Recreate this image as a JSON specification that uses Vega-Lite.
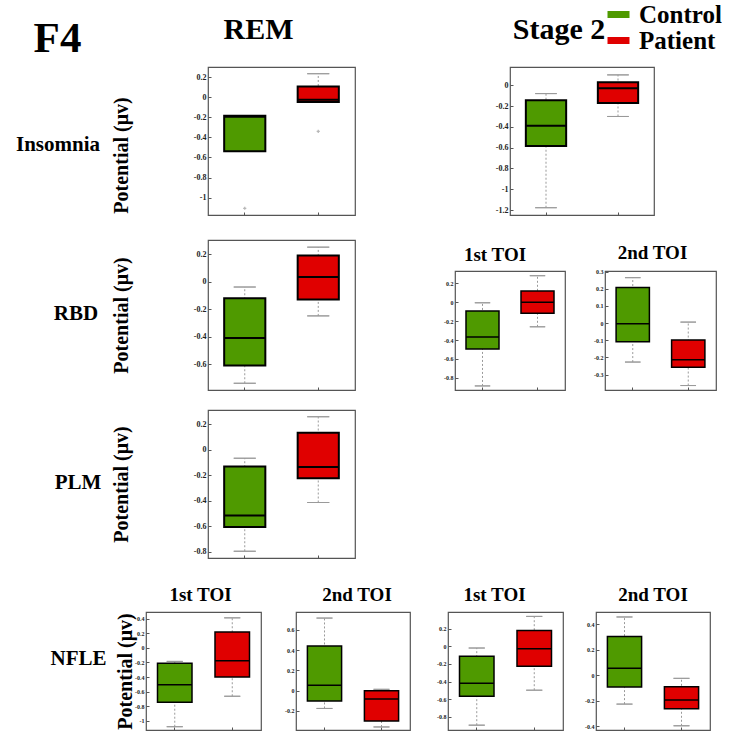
{
  "$schema": "https://vega.github.io/schema/vega-lite/v6.json",
  "padding": 0,
  "background": "white",
  "datasets": {
    "boxes": [
      {"panel": "P1", "group": "Control", "lo": -0.538, "q1": -0.538, "med": -0.195, "q3": -0.185, "hi": -0.185},
      {"panel": "P1", "group": "Patient", "lo": -0.048, "q1": -0.048, "med": -0.025, "q3": 0.107, "hi": 0.233},
      {"panel": "P2", "group": "Control", "lo": -1.178, "q1": -0.585, "med": -0.39, "q3": -0.144, "hi": -0.08},
      {"panel": "P2", "group": "Patient", "lo": -0.30, "q1": -0.17, "med": -0.029, "q3": 0.029, "hi": 0.10},
      {"panel": "P3", "group": "Control", "lo": -0.74, "q1": -0.61, "med": -0.41, "q3": -0.122, "hi": -0.04},
      {"panel": "P3", "group": "Patient", "lo": -0.25, "q1": -0.13, "med": 0.033, "q3": 0.19, "hi": 0.25},
      {"panel": "P4", "group": "Control", "lo": -0.885, "q1": -0.495, "med": -0.367, "q3": -0.094, "hi": -0.006},
      {"panel": "P4", "group": "Patient", "lo": -0.26, "q1": -0.116, "med": 0.0, "q3": 0.118, "hi": 0.28},
      {"panel": "P5", "group": "Control", "lo": -0.227, "q1": -0.108, "med": -0.003, "q3": 0.208, "hi": 0.265},
      {"panel": "P5", "group": "Patient", "lo": -0.364, "q1": -0.258, "med": -0.214, "q3": -0.099, "hi": 0.006},
      {"panel": "P6", "group": "Control", "lo": -0.797, "q1": -0.607, "med": -0.516, "q3": -0.133, "hi": -0.068},
      {"panel": "P6", "group": "Patient", "lo": -0.415, "q1": -0.224, "med": -0.136, "q3": 0.132, "hi": 0.257},
      {"panel": "P7", "group": "Control", "lo": -1.08, "q1": -0.745, "med": -0.505, "q3": -0.21, "hi": -0.186},
      {"panel": "P7", "group": "Patient", "lo": -0.663, "q1": -0.40, "med": -0.177, "q3": 0.216, "hi": 0.41},
      {"panel": "P8", "group": "Control", "lo": -0.177, "q1": -0.104, "med": 0.051, "q3": 0.44, "hi": 0.716},
      {"panel": "P8", "group": "Patient", "lo": -0.36, "q1": -0.302, "med": -0.084, "q3": -0.002, "hi": 0.012},
      {"panel": "P9", "group": "Control", "lo": -0.895, "q1": -0.566, "med": -0.419, "q3": -0.113, "hi": -0.019},
      {"panel": "P9", "group": "Patient", "lo": -0.498, "q1": -0.226, "med": -0.027, "q3": 0.181, "hi": 0.34},
      {"panel": "P10", "group": "Control", "lo": -0.227, "q1": -0.093, "med": 0.054, "q3": 0.303, "hi": 0.456},
      {"panel": "P10", "group": "Patient", "lo": -0.397, "q1": -0.263, "med": -0.195, "q3": -0.09, "hi": -0.025}
    ],
    "outliers": [
      {"panel": "P1", "group": "Control", "v": -1.106},
      {"panel": "P1", "group": "Patient", "v": -0.34}
    ],
    "blank": [{}]
  },
  "spacing": 0,
  "bounds": "flush",
  "vconcat": [
    {"width": 113, "height": 67, "view": {"stroke": null}, "data": {"values": [{"t": "F4"}]},
     "mark": {"type": "text", "font": "Liberation Serif", "fontWeight": "bold", "fontSize": 43, "baseline": "alphabetic", "dy": 18.5, "dx": -2, "color": "#000"},
     "encoding": {"text": {"field": "t"}}},
    {
      "spacing": 0, "bounds": "flush",
      "hconcat": [
        {"width": 110, "height": 148, "view": {"stroke": null}, "data": {"values": [{"t": "Insomnia"}]},
         "mark": {"type": "text", "font": "Liberation Serif", "fontWeight": "bold", "fontSize": 21, "baseline": "alphabetic", "dy": 10, "color": "#000"},
         "encoding": {"text": {"field": "t"}}},
        {"width": 95, "height": 1, "view": {"stroke": null}, "data": {"name": "blank"}, "mark": {"type": "point", "opacity": 0}},
        {
          "width": 147, "height": 148,
          "view": {"stroke": "#555", "strokeWidth": 1.2},
          "title": {"text": "REM", "fontSize": 30, "offset": 22, "dx": -23},
          "data": {"name": "boxes"},
          "transform": [{"filter": "datum.panel === 'P1'"}],
          "encoding": {"x": {"field": "group", "type": "nominal", "title": null, "scale": {"domain": ["Control", "Patient"], "paddingInner": 0, "paddingOuter": 0}, "axis": {"labels": false, "domain": false, "tickSize": -3}}},
          "layer": [
            {"mark": {"type": "rule", "color": "#9a9a9a", "strokeDash": [2, 2], "strokeWidth": 1},
             "encoding": {"y": {"field": "lo", "type": "quantitative", "scale": {"domain": [-1.173, 0.30], "nice": false, "zero": false},
               "axis": {"values": [-1, -0.8, -0.6, -0.4, -0.2, 0, 0.2], "tickCount": 40, "labelOverlap": false, "format": "~g", "labelFontSize": 8, "title": "Potential (μv)", "titleX": -77, "titleY": 88}},
               "y2": {"field": "hi"}}},
            {"mark": {"type": "bar", "filled": false, "color": "#9a9a9a", "strokeWidth": 1, "width": {"band": 0.3}},
             "encoding": {"y": {"field": "lo", "type": "quantitative"}, "y2": {"field": "lo"}}},
            {"mark": {"type": "bar", "filled": false, "color": "#9a9a9a", "strokeWidth": 1, "width": {"band": 0.3}},
             "encoding": {"y": {"field": "hi", "type": "quantitative"}, "y2": {"field": "hi"}}},
            {"mark": {"type": "bar", "stroke": "#000", "strokeWidth": 2, "width": {"band": 0.56}},
             "encoding": {"y": {"field": "q1", "type": "quantitative"}, "y2": {"field": "q3"},
               "color": {"field": "group", "type": "nominal", "scale": {"domain": ["Control", "Patient"], "range": ["#4f9a00", "#e00000"]},
                 "legend": {"orient": "none", "legendX": 603, "legendY": 2, "title": null, "labelFont": "Liberation Serif", "labelFontWeight": "bold", "labelFontSize": 25, "labelColor": "#000", "symbolType": "M-1,-0.32H1V0.32H-1Z", "symbolSize": 484, "symbolStrokeWidth": 0, "symbolOpacity": 1, "rowPadding": 0, "labelOffset": 8, "padding": 0}}}},
            {"mark": {"type": "bar", "filled": false, "color": "#000", "strokeWidth": 2, "width": {"band": 0.56}},
             "encoding": {"y": {"field": "med", "type": "quantitative"}, "y2": {"field": "med"}}},
            {"data": {"name": "outliers"},
             "transform": [{"filter": "datum.panel === 'P1'"}],
             "mark": {"type": "point", "shape": "cross", "size": 10, "color": "#999", "filled": true},
             "encoding": {"y": {"field": "v", "type": "quantitative"}}}
          ]
        },
        {"width": 155, "height": 1, "view": {"stroke": null}, "data": {"name": "blank"}, "mark": {"type": "point", "opacity": 0}},
        {
          "width": 144, "height": 148,
          "view": {"stroke": "#555", "strokeWidth": 1.2},
          "title": {"text": "Stage 2", "fontSize": 30, "offset": 22, "dx": -23},
          "data": {"name": "boxes"},
          "transform": [{"filter": "datum.panel === 'P2'"}],
          "encoding": {"x": {"field": "group", "type": "nominal", "title": null, "scale": {"domain": ["Control", "Patient"], "paddingInner": 0, "paddingOuter": 0}, "axis": {"labels": false, "domain": false, "tickSize": -3}}},
          "layer": [
            {"mark": {"type": "rule", "color": "#9a9a9a", "strokeDash": [2, 2], "strokeWidth": 1},
             "encoding": {"y": {"field": "lo", "type": "quantitative", "scale": {"domain": [-1.248, 0.176], "nice": false, "zero": false},
               "axis": {"values": [-1.2, -1, -0.8, -0.6, -0.4, -0.2, 0], "tickCount": 40, "labelOverlap": false, "format": "~g", "labelFontSize": 8, "title": null}},
               "y2": {"field": "hi"}}},
            {"mark": {"type": "bar", "filled": false, "color": "#9a9a9a", "strokeWidth": 1, "width": {"band": 0.3}},
             "encoding": {"y": {"field": "lo", "type": "quantitative"}, "y2": {"field": "lo"}}},
            {"mark": {"type": "bar", "filled": false, "color": "#9a9a9a", "strokeWidth": 1, "width": {"band": 0.3}},
             "encoding": {"y": {"field": "hi", "type": "quantitative"}, "y2": {"field": "hi"}}},
            {"mark": {"type": "bar", "stroke": "#000", "strokeWidth": 2, "width": {"band": 0.56}},
             "encoding": {"y": {"field": "q1", "type": "quantitative"}, "y2": {"field": "q3"},
               "color": {"field": "group", "type": "nominal", "scale": {"domain": ["Control", "Patient"], "range": ["#4f9a00", "#e00000"]}}}},
            {"mark": {"type": "bar", "filled": false, "color": "#000", "strokeWidth": 2, "width": {"band": 0.56}},
             "encoding": {"y": {"field": "med", "type": "quantitative"}, "y2": {"field": "med"}}}
          ]
        }
      ]
    },
    {"width": 1, "height": 173, "view": {"stroke": null}, "data": {"name": "blank"}, "mark": {"type": "point", "opacity": 0}},
    {
      "spacing": 0, "bounds": "flush",
      "hconcat": [
        {"width": 146, "height": 150, "view": {"stroke": null}, "data": {"values": [{"t": "RBD"}]},
         "mark": {"type": "text", "font": "Liberation Serif", "fontWeight": "bold", "fontSize": 21, "baseline": "alphabetic", "dy": 5, "color": "#000"},
         "encoding": {"text": {"field": "t"}}},
        {"width": 59, "height": 1, "view": {"stroke": null}, "data": {"name": "blank"}, "mark": {"type": "point", "opacity": 0}},
        {
          "width": 147, "height": 150,
          "view": {"stroke": "#555", "strokeWidth": 1.2},
          "data": {"name": "boxes"},
          "transform": [{"filter": "datum.panel === 'P3'"}],
          "encoding": {"x": {"field": "group", "type": "nominal", "title": null, "scale": {"domain": ["Control", "Patient"], "paddingInner": 0, "paddingOuter": 0}, "axis": {"labels": false, "domain": false, "tickSize": -3}}},
          "layer": [
            {"mark": {"type": "rule", "color": "#9a9a9a", "strokeDash": [2, 2], "strokeWidth": 1},
             "encoding": {"y": {"field": "lo", "type": "quantitative", "scale": {"domain": [-0.789, 0.302], "nice": false, "zero": false},
               "axis": {"values": [-0.6, -0.4, -0.2, 0, 0.2], "tickCount": 40, "labelOverlap": false, "format": "~g", "labelFontSize": 8, "title": "Potential (μv)", "titleX": -77, "titleY": 75}},
               "y2": {"field": "hi"}}},
            {"mark": {"type": "bar", "filled": false, "color": "#9a9a9a", "strokeWidth": 1, "width": {"band": 0.3}},
             "encoding": {"y": {"field": "lo", "type": "quantitative"}, "y2": {"field": "lo"}}},
            {"mark": {"type": "bar", "filled": false, "color": "#9a9a9a", "strokeWidth": 1, "width": {"band": 0.3}},
             "encoding": {"y": {"field": "hi", "type": "quantitative"}, "y2": {"field": "hi"}}},
            {"mark": {"type": "bar", "stroke": "#000", "strokeWidth": 2, "width": {"band": 0.56}},
             "encoding": {"y": {"field": "q1", "type": "quantitative"}, "y2": {"field": "q3"},
               "color": {"field": "group", "type": "nominal", "scale": {"domain": ["Control", "Patient"], "range": ["#4f9a00", "#e00000"]}}}},
            {"mark": {"type": "bar", "filled": false, "color": "#000", "strokeWidth": 2, "width": {"band": 0.56}},
             "encoding": {"y": {"field": "med", "type": "quantitative"}, "y2": {"field": "med"}}}
          ]
        },
        {"width": 100, "height": 1, "view": {"stroke": null}, "data": {"name": "blank"}, "mark": {"type": "point", "opacity": 0}},
        {
          "spacing": 0, "bounds": "flush",
          "vconcat": [
            {"width": 1, "height": 31, "view": {"stroke": null}, "data": {"name": "blank"}, "mark": {"type": "point", "opacity": 0}},
            {
              "width": 110, "height": 119,
              "view": {"stroke": "#555", "strokeWidth": 1.2},
              "title": {"text": "1st TOI", "fontSize": 19, "offset": 6, "dx": -15},
              "data": {"name": "boxes"},
              "transform": [{"filter": "datum.panel === 'P4'"}],
              "encoding": {"x": {"field": "group", "type": "nominal", "title": null, "scale": {"domain": ["Control", "Patient"], "paddingInner": 0, "paddingOuter": 0}, "axis": {"labels": false, "domain": false, "tickSize": -3}}},
              "layer": [
                {"mark": {"type": "rule", "color": "#9a9a9a", "strokeDash": [2, 2], "strokeWidth": 1},
                 "encoding": {"y": {"field": "lo", "type": "quantitative", "scale": {"domain": [-0.928, 0.33], "nice": false, "zero": false},
                   "axis": {"values": [-0.8, -0.6, -0.4, -0.2, 0, 0.2], "tickCount": 40, "labelOverlap": false, "format": "~g", "labelFontSize": 6, "title": null}},
                   "y2": {"field": "hi"}}},
                {"mark": {"type": "bar", "filled": false, "color": "#9a9a9a", "strokeWidth": 1, "width": {"band": 0.28}},
                 "encoding": {"y": {"field": "lo", "type": "quantitative"}, "y2": {"field": "lo"}}},
                {"mark": {"type": "bar", "filled": false, "color": "#9a9a9a", "strokeWidth": 1, "width": {"band": 0.28}},
                 "encoding": {"y": {"field": "hi", "type": "quantitative"}, "y2": {"field": "hi"}}},
                {"mark": {"type": "bar", "stroke": "#000", "strokeWidth": 1.5, "width": {"band": 0.6}},
                 "encoding": {"y": {"field": "q1", "type": "quantitative"}, "y2": {"field": "q3"},
                   "color": {"field": "group", "type": "nominal", "scale": {"domain": ["Control", "Patient"], "range": ["#4f9a00", "#e00000"]}}}},
                {"mark": {"type": "bar", "filled": false, "color": "#000", "strokeWidth": 1.5, "width": {"band": 0.6}},
                 "encoding": {"y": {"field": "med", "type": "quantitative"}, "y2": {"field": "med"}}}
              ]
            }
          ]
        },
        {"width": 150, "height": 1, "view": {"stroke": null}, "data": {"name": "blank"}, "mark": {"type": "point", "opacity": 0}},
        {
          "spacing": 0, "bounds": "flush",
          "vconcat": [
            {"width": 1, "height": 31, "view": {"stroke": null}, "data": {"name": "blank"}, "mark": {"type": "point", "opacity": 0}},
            {
              "width": 111, "height": 119,
              "view": {"stroke": "#555", "strokeWidth": 1.2},
              "title": {"text": "2nd TOI", "fontSize": 19, "offset": 6, "dx": -8},
              "data": {"name": "boxes"},
              "transform": [{"filter": "datum.panel === 'P5'"}],
              "encoding": {"x": {"field": "group", "type": "nominal", "title": null, "scale": {"domain": ["Control", "Patient"], "paddingInner": 0, "paddingOuter": 0}, "axis": {"labels": false, "domain": false, "tickSize": -3}}},
              "layer": [
                {"mark": {"type": "rule", "color": "#9a9a9a", "strokeDash": [2, 2], "strokeWidth": 1},
                 "encoding": {"y": {"field": "lo", "type": "quantitative", "scale": {"domain": [-0.39, 0.304], "nice": false, "zero": false},
                   "axis": {"values": [-0.3, -0.2, -0.1, 0, 0.1, 0.2, 0.3], "tickCount": 40, "labelOverlap": false, "format": "~g", "labelFontSize": 6, "title": null}},
                   "y2": {"field": "hi"}}},
                {"mark": {"type": "bar", "filled": false, "color": "#9a9a9a", "strokeWidth": 1, "width": {"band": 0.28}},
                 "encoding": {"y": {"field": "lo", "type": "quantitative"}, "y2": {"field": "lo"}}},
                {"mark": {"type": "bar", "filled": false, "color": "#9a9a9a", "strokeWidth": 1, "width": {"band": 0.28}},
                 "encoding": {"y": {"field": "hi", "type": "quantitative"}, "y2": {"field": "hi"}}},
                {"mark": {"type": "bar", "stroke": "#000", "strokeWidth": 1.5, "width": {"band": 0.6}},
                 "encoding": {"y": {"field": "q1", "type": "quantitative"}, "y2": {"field": "q3"},
                   "color": {"field": "group", "type": "nominal", "scale": {"domain": ["Control", "Patient"], "range": ["#4f9a00", "#e00000"]}}}},
                {"mark": {"type": "bar", "filled": false, "color": "#000", "strokeWidth": 1.5, "width": {"band": 0.6}},
                 "encoding": {"y": {"field": "med", "type": "quantitative"}, "y2": {"field": "med"}}}
              ]
            }
          ]
        }
      ]
    },
    {"width": 1, "height": 170, "view": {"stroke": null}, "data": {"name": "blank"}, "mark": {"type": "point", "opacity": 0}},
    {
      "spacing": 0, "bounds": "flush",
      "hconcat": [
        {"width": 150, "height": 148, "view": {"stroke": null}, "data": {"values": [{"t": "PLM"}]},
         "mark": {"type": "text", "font": "Liberation Serif", "fontWeight": "bold", "fontSize": 21, "baseline": "alphabetic", "dy": 5, "color": "#000"},
         "encoding": {"text": {"field": "t"}}},
        {"width": 55, "height": 1, "view": {"stroke": null}, "data": {"name": "blank"}, "mark": {"type": "point", "opacity": 0}},
        {
          "width": 147, "height": 148,
          "view": {"stroke": "#555", "strokeWidth": 1.2},
          "data": {"name": "boxes"},
          "transform": [{"filter": "datum.panel === 'P6'"}],
          "encoding": {"x": {"field": "group", "type": "nominal", "title": null, "scale": {"domain": ["Control", "Patient"], "paddingInner": 0, "paddingOuter": 0}, "axis": {"labels": false, "domain": false, "tickSize": -3}}},
          "layer": [
            {"mark": {"type": "rule", "color": "#9a9a9a", "strokeDash": [2, 2], "strokeWidth": 1},
             "encoding": {"y": {"field": "lo", "type": "quantitative", "scale": {"domain": [-0.85, 0.31], "nice": false, "zero": false},
               "axis": {"values": [-0.8, -0.6, -0.4, -0.2, 0, 0.2], "tickCount": 40, "labelOverlap": false, "format": "~g", "labelFontSize": 8, "title": "Potential (μv)", "titleX": -77, "titleY": 74}},
               "y2": {"field": "hi"}}},
            {"mark": {"type": "bar", "filled": false, "color": "#9a9a9a", "strokeWidth": 1, "width": {"band": 0.3}},
             "encoding": {"y": {"field": "lo", "type": "quantitative"}, "y2": {"field": "lo"}}},
            {"mark": {"type": "bar", "filled": false, "color": "#9a9a9a", "strokeWidth": 1, "width": {"band": 0.3}},
             "encoding": {"y": {"field": "hi", "type": "quantitative"}, "y2": {"field": "hi"}}},
            {"mark": {"type": "bar", "stroke": "#000", "strokeWidth": 2, "width": {"band": 0.56}},
             "encoding": {"y": {"field": "q1", "type": "quantitative"}, "y2": {"field": "q3"},
               "color": {"field": "group", "type": "nominal", "scale": {"domain": ["Control", "Patient"], "range": ["#4f9a00", "#e00000"]}}}},
            {"mark": {"type": "bar", "filled": false, "color": "#000", "strokeWidth": 2, "width": {"band": 0.56}},
             "encoding": {"y": {"field": "med", "type": "quantitative"}, "y2": {"field": "med"}}}
          ]
        }
      ]
    },
    {"width": 1, "height": 202, "view": {"stroke": null}, "data": {"name": "blank"}, "mark": {"type": "point", "opacity": 0}},
    {
      "spacing": 0, "bounds": "flush",
      "hconcat": [
        {"width": 143, "height": 118, "view": {"stroke": null}, "data": {"values": [{"t": "NFLE"}]},
         "mark": {"type": "text", "font": "Liberation Serif", "fontWeight": "bold", "fontSize": 21, "baseline": "alphabetic", "dy": -6, "dx": 4, "color": "#000"},
         "encoding": {"text": {"field": "t"}}},
        {
          "width": 115, "height": 118,
          "view": {"stroke": "#555", "strokeWidth": 1.2},
          "title": {"text": "1st TOI", "fontSize": 19, "offset": 7, "dx": -3},
          "data": {"name": "boxes"},
          "transform": [{"filter": "datum.panel === 'P7'"}],
          "encoding": {"x": {"field": "group", "type": "nominal", "title": null, "scale": {"domain": ["Control", "Patient"], "paddingInner": 0, "paddingOuter": 0}, "axis": {"labels": false, "domain": false, "tickSize": -3}}},
          "layer": [
            {"mark": {"type": "rule", "color": "#9a9a9a", "strokeDash": [2, 2], "strokeWidth": 1},
             "encoding": {"y": {"field": "lo", "type": "quantitative", "scale": {"domain": [-1.125, 0.49], "nice": false, "zero": false},
               "axis": {"values": [-1, -0.8, -0.6, -0.4, -0.2, 0, 0.2, 0.4], "tickCount": 40, "labelOverlap": false, "format": "~g", "labelFontSize": 6, "title": "Potential (μv)", "titleX": -11, "titleY": 59}},
               "y2": {"field": "hi"}}},
            {"mark": {"type": "bar", "filled": false, "color": "#9a9a9a", "strokeWidth": 1, "width": {"band": 0.28}},
             "encoding": {"y": {"field": "lo", "type": "quantitative"}, "y2": {"field": "lo"}}},
            {"mark": {"type": "bar", "filled": false, "color": "#9a9a9a", "strokeWidth": 1, "width": {"band": 0.28}},
             "encoding": {"y": {"field": "hi", "type": "quantitative"}, "y2": {"field": "hi"}}},
            {"mark": {"type": "bar", "stroke": "#000", "strokeWidth": 1.5, "width": {"band": 0.6}},
             "encoding": {"y": {"field": "q1", "type": "quantitative"}, "y2": {"field": "q3"},
               "color": {"field": "group", "type": "nominal", "scale": {"domain": ["Control", "Patient"], "range": ["#4f9a00", "#e00000"]}}}},
            {"mark": {"type": "bar", "filled": false, "color": "#000", "strokeWidth": 1.5, "width": {"band": 0.6}},
             "encoding": {"y": {"field": "med", "type": "quantitative"}, "y2": {"field": "med"}}}
          ]
        },
        {"width": 35, "height": 1, "view": {"stroke": null}, "data": {"name": "blank"}, "mark": {"type": "point", "opacity": 0}},
        {
          "width": 114, "height": 118,
          "view": {"stroke": "#555", "strokeWidth": 1.2},
          "title": {"text": "2nd TOI", "fontSize": 19, "offset": 7, "dx": 4},
          "data": {"name": "boxes"},
          "transform": [{"filter": "datum.panel === 'P8'"}],
          "encoding": {"x": {"field": "group", "type": "nominal", "title": null, "scale": {"domain": ["Control", "Patient"], "paddingInner": 0, "paddingOuter": 0}, "axis": {"labels": false, "domain": false, "tickSize": -3}}},
          "layer": [
            {"mark": {"type": "rule", "color": "#9a9a9a", "strokeDash": [2, 2], "strokeWidth": 1},
             "encoding": {"y": {"field": "lo", "type": "quantitative", "scale": {"domain": [-0.39, 0.776], "nice": false, "zero": false},
               "axis": {"values": [-0.2, 0, 0.2, 0.4, 0.6], "tickCount": 40, "labelOverlap": false, "format": "~g", "labelFontSize": 6, "title": null}},
               "y2": {"field": "hi"}}},
            {"mark": {"type": "bar", "filled": false, "color": "#9a9a9a", "strokeWidth": 1, "width": {"band": 0.28}},
             "encoding": {"y": {"field": "lo", "type": "quantitative"}, "y2": {"field": "lo"}}},
            {"mark": {"type": "bar", "filled": false, "color": "#9a9a9a", "strokeWidth": 1, "width": {"band": 0.28}},
             "encoding": {"y": {"field": "hi", "type": "quantitative"}, "y2": {"field": "hi"}}},
            {"mark": {"type": "bar", "stroke": "#000", "strokeWidth": 1.5, "width": {"band": 0.6}},
             "encoding": {"y": {"field": "q1", "type": "quantitative"}, "y2": {"field": "q3"},
               "color": {"field": "group", "type": "nominal", "scale": {"domain": ["Control", "Patient"], "range": ["#4f9a00", "#e00000"]}}}},
            {"mark": {"type": "bar", "filled": false, "color": "#000", "strokeWidth": 1.5, "width": {"band": 0.6}},
             "encoding": {"y": {"field": "med", "type": "quantitative"}, "y2": {"field": "med"}}}
          ]
        },
        {"width": 38, "height": 1, "view": {"stroke": null}, "data": {"name": "blank"}, "mark": {"type": "point", "opacity": 0}},
        {
          "width": 115, "height": 118,
          "view": {"stroke": "#555", "strokeWidth": 1.2},
          "title": {"text": "1st TOI", "fontSize": 19, "offset": 7, "dx": -11},
          "data": {"name": "boxes"},
          "transform": [{"filter": "datum.panel === 'P9'"}],
          "encoding": {"x": {"field": "group", "type": "nominal", "title": null, "scale": {"domain": ["Control", "Patient"], "paddingInner": 0, "paddingOuter": 0}, "axis": {"labels": false, "domain": false, "tickSize": -3}}},
          "layer": [
            {"mark": {"type": "rule", "color": "#9a9a9a", "strokeDash": [2, 2], "strokeWidth": 1},
             "encoding": {"y": {"field": "lo", "type": "quantitative", "scale": {"domain": [-0.95, 0.39], "nice": false, "zero": false},
               "axis": {"values": [-0.8, -0.6, -0.4, -0.2, 0, 0.2], "tickCount": 40, "labelOverlap": false, "format": "~g", "labelFontSize": 6, "title": null}},
               "y2": {"field": "hi"}}},
            {"mark": {"type": "bar", "filled": false, "color": "#9a9a9a", "strokeWidth": 1, "width": {"band": 0.28}},
             "encoding": {"y": {"field": "lo", "type": "quantitative"}, "y2": {"field": "lo"}}},
            {"mark": {"type": "bar", "filled": false, "color": "#9a9a9a", "strokeWidth": 1, "width": {"band": 0.28}},
             "encoding": {"y": {"field": "hi", "type": "quantitative"}, "y2": {"field": "hi"}}},
            {"mark": {"type": "bar", "stroke": "#000", "strokeWidth": 1.5, "width": {"band": 0.6}},
             "encoding": {"y": {"field": "q1", "type": "quantitative"}, "y2": {"field": "q3"},
               "color": {"field": "group", "type": "nominal", "scale": {"domain": ["Control", "Patient"], "range": ["#4f9a00", "#e00000"]}}}},
            {"mark": {"type": "bar", "filled": false, "color": "#000", "strokeWidth": 1.5, "width": {"band": 0.6}},
             "encoding": {"y": {"field": "med", "type": "quantitative"}, "y2": {"field": "med"}}}
          ]
        },
        {"width": 33, "height": 1, "view": {"stroke": null}, "data": {"name": "blank"}, "mark": {"type": "point", "opacity": 0}},
        {
          "width": 114, "height": 118,
          "view": {"stroke": "#555", "strokeWidth": 1.2},
          "title": {"text": "2nd TOI", "fontSize": 19, "offset": 7, "dx": 0},
          "data": {"name": "boxes"},
          "transform": [{"filter": "datum.panel === 'P10'"}],
          "encoding": {"x": {"field": "group", "type": "nominal", "title": null, "scale": {"domain": ["Control", "Patient"], "paddingInner": 0, "paddingOuter": 0}, "axis": {"labels": false, "domain": false, "tickSize": -3}}},
          "layer": [
            {"mark": {"type": "rule", "color": "#9a9a9a", "strokeDash": [2, 2], "strokeWidth": 1},
             "encoding": {"y": {"field": "lo", "type": "quantitative", "scale": {"domain": [-0.43, 0.495], "nice": false, "zero": false},
               "axis": {"values": [-0.4, -0.2, 0, 0.2, 0.4], "tickCount": 40, "labelOverlap": false, "format": "~g", "labelFontSize": 6, "title": null}},
               "y2": {"field": "hi"}}},
            {"mark": {"type": "bar", "filled": false, "color": "#9a9a9a", "strokeWidth": 1, "width": {"band": 0.28}},
             "encoding": {"y": {"field": "lo", "type": "quantitative"}, "y2": {"field": "lo"}}},
            {"mark": {"type": "bar", "filled": false, "color": "#9a9a9a", "strokeWidth": 1, "width": {"band": 0.28}},
             "encoding": {"y": {"field": "hi", "type": "quantitative"}, "y2": {"field": "hi"}}},
            {"mark": {"type": "bar", "stroke": "#000", "strokeWidth": 1.5, "width": {"band": 0.6}},
             "encoding": {"y": {"field": "q1", "type": "quantitative"}, "y2": {"field": "q3"},
               "color": {"field": "group", "type": "nominal", "scale": {"domain": ["Control", "Patient"], "range": ["#4f9a00", "#e00000"]}}}},
            {"mark": {"type": "bar", "filled": false, "color": "#000", "strokeWidth": 1.5, "width": {"band": 0.6}},
             "encoding": {"y": {"field": "med", "type": "quantitative"}, "y2": {"field": "med"}}}
          ]
        }
      ]
    }
  ],
  "config": {
    "font": "Liberation Serif",
    "locale": {"number": {"decimal": ".", "thousands": ",", "grouping": [3], "currency": ["$", ""], "minus": "-"}},
    "axis": {
      "labelFont": "Liberation Serif", "labelFontWeight": "bold", "labelColor": "#222",
      "tickColor": "#555", "tickWidth": 1, "tickSize": -3, "labelPadding": 5,
      "domain": false, "grid": false, "labelFlush": false, "labelOverlap": false,
      "titleFont": "Liberation Serif", "titleFontWeight": "bold", "titleFontSize": 20, "titleColor": "#000"
    },
    "title": {"font": "Liberation Serif", "fontWeight": "bold", "color": "#000", "baseline": "alphabetic", "anchor": "middle"}
  }
}
